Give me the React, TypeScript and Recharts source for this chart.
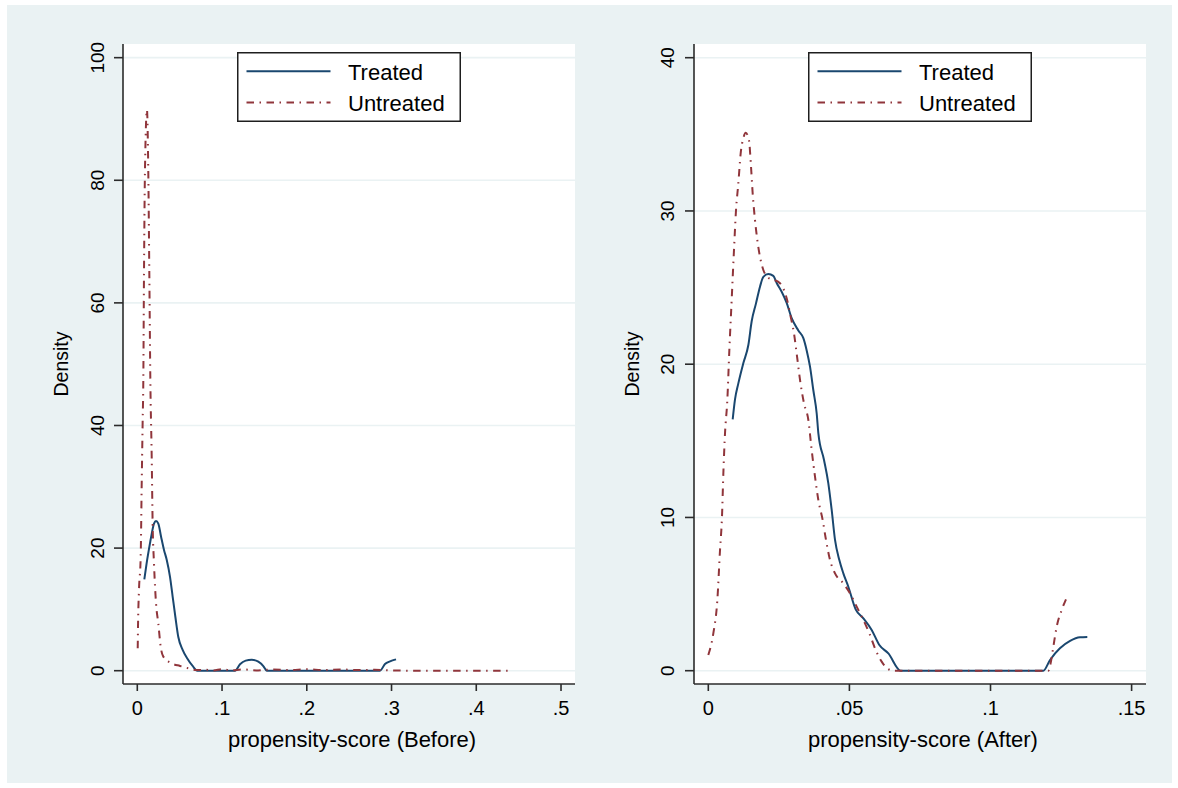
import { LineChart, Line, XAxis, YAxis, CartesianGrid, Legend } from "recharts";

const NAVY = "#1a476f";
const MAROON = "#90353b";
const BG = "#eaf2f3";
const AXIS = "#2b2b2b";
const FONT = "'Liberation Sans', Arial, Helvetica, sans-serif";

// kernel density estimates: [score, density]
const treatedBefore: [number, number][] = [
  [0.0083, 14.9], [0.011, 17.5], [0.015, 20.8], [0.0171, 22.4], [0.0197, 24.0], [0.0221, 24.4],
  [0.0248, 24.0], [0.028, 21.9], [0.0315, 19.7], [0.0347, 18.1], [0.0386, 15.3], [0.0417, 12.1],
  [0.0449, 8.8], [0.0484, 5.5], [0.0535, 3.4], [0.059, 2.0], [0.0653, 0.77], [0.0708, 0],
  [0.1153, 0], [0.1212, 1.04], [0.1279, 1.64], [0.135, 1.8], [0.1428, 1.47], [0.1487, 0.76],
  [0.1527, 0], [0.2864, 0], [0.2923, 1.09], [0.2982, 1.52], [0.3053, 1.85],
];

const untreatedBefore: [number, number][] = [
  [0.0005, 3.65], [0.0009, 7.7], [0.002, 13.2], [0.004, 18.6], [0.0051, 29.5], [0.0063, 40.4],
  [0.0071, 47.4], [0.0079, 64.8], [0.009, 81.1], [0.0114, 91.5], [0.013, 81.1], [0.0142, 64.8],
  [0.0154, 47.4], [0.017, 34.9], [0.0181, 24.0], [0.0197, 17.5], [0.0221, 11.0], [0.0248, 7.7],
  [0.0276, 3.9], [0.0307, 2.3], [0.0406, 1.2], [0.0504, 0.77], [0.0602, 0.4], [0.07, 0.1],
  [0.08, 0.15], [0.09, 0.05], [0.1, 0.25], [0.11, 0.05], [0.125, 0.2], [0.14, 0.05],
  [0.16, 0.2], [0.18, 0.1], [0.2, 0.25], [0.22, 0.1], [0.24, 0.2], [0.26, 0.1],
  [0.28, 0.15], [0.3, 0.05], [0.33, 0], [0.44, 0],
];

const treatedAfter: [number, number][] = [
  [0.00864, 16.4], [0.00946, 17.7], [0.01064, 18.75], [0.0124, 20.06], [0.01419, 21.25],
  [0.01537, 22.8], [0.0169, 23.97], [0.01832, 25.06], [0.0195, 25.7], [0.02127, 25.88],
  [0.02304, 25.76], [0.02423, 25.3], [0.026, 24.73], [0.02777, 24.0], [0.02954, 23.0],
  [0.0319, 22.2], [0.03368, 21.7], [0.03486, 20.9], [0.03604, 19.84], [0.03722, 18.3],
  [0.0384, 16.8], [0.039, 15.49], [0.041, 13.75], [0.04253, 12.23], [0.04372, 10.49],
  [0.0449, 8.53], [0.04643, 7.22], [0.04785, 6.35], [0.04962, 5.48], [0.05222, 4.0],
  [0.05494, 3.42], [0.05789, 2.66], [0.06061, 1.68], [0.0638, 1.13], [0.06817, 0],
  [0.1187, 0], [0.1211, 0.7], [0.1246, 1.46], [0.1282, 1.94], [0.1317, 2.18], [0.1343, 2.2],
];

const untreatedAfter: [number, number][] = [
  [0.0, 1.02], [0.00178, 2.44], [0.0032, 4.61], [0.00415, 7.88], [0.00485, 10.05],
  [0.00533, 12.88], [0.00592, 15.49], [0.00674, 17.66], [0.00745, 20.9], [0.00828, 24.2],
  [0.0091, 27.45], [0.00982, 30.06], [0.01064, 31.8], [0.01147, 33.76], [0.01241, 34.74],
  [0.01324, 35.1], [0.01442, 34.6], [0.01513, 32.9], [0.01572, 31.15], [0.01655, 29.4],
  [0.01737, 28.1], [0.01832, 27.0], [0.0195, 26.15], [0.02092, 25.7], [0.02541, 25.28],
  [0.02777, 24.3], [0.02919, 23.1], [0.03037, 22.0], [0.03131, 20.7], [0.0325, 18.97],
  [0.03391, 17.45], [0.03545, 16.36], [0.03663, 14.4], [0.03781, 12.66], [0.03899, 11.14],
  [0.04053, 9.83], [0.04171, 8.53], [0.04313, 7.22], [0.0449, 6.35], [0.04785, 5.7],
  [0.05021, 5.05], [0.05258, 4.18], [0.05494, 3.31], [0.05706, 2.44], [0.05907, 1.46],
  [0.06143, 0.59], [0.06344, 0.15], [0.06557, 0], [0.1205, 0], [0.1213, 0.48],
  [0.12227, 1.57], [0.12345, 2.87], [0.12522, 3.96], [0.12675, 4.66],
];

const seriesNames = ["Treated", "Untreated"];
const beforeXTicks = [0, 0.1, 0.2, 0.3, 0.4, 0.5];
const beforeYTicks = [0, 20, 40, 60, 80, 100];
const afterXTicks = [0, 0.05, 0.1, 0.15];
const afterYTicks = [0, 10, 20, 30, 40];

const DASHDOT = "7.5 5.5 1.5 5.5";

const toPoints = (arr: [number, number][]) => arr.map(([x, y]) => ({ x, y }));
const fmt = (v: number) => (v === 0 ? "0" : String(v).replace(/^0\./, "."));

function XTick({ x, y, payload }: any) {
  return (
    <text x={x} y={y} dy={14} textAnchor="middle" fontSize={20} fontFamily={FONT} fill="#000">
      {fmt(payload.value)}
    </text>
  );
}

function YTick({ x, y, payload }: any) {
  return (
    <g transform={`translate(${x},${y}) rotate(-90)`}>
      <text x={0} y={0} textAnchor="middle" fontSize={19} fontFamily={FONT} fill="#000">
        {fmt(payload.value)}
      </text>
    </g>
  );
}

function LegendBox({ payload }: any) {
  return (
    <svg width={224} height={70} style={{ display: "block" }}>
      <rect x={0.75} y={0.75} width={222.5} height={68.5} fill="#fff" stroke="#1e1e1e" strokeWidth={1.5} />
      {(payload || []).map((p: any, i: number) => (
        <g key={p.value}>
          <line x1={9.5} x2={93.5} y1={19.3 + i * 31.3} y2={19.3 + i * 31.3} stroke={p.color}
            strokeWidth={2} strokeDasharray={i === 1 ? DASHDOT : undefined} />
          <text x={111} y={27.6 + i * 31.7} fontSize={22} fontFamily={FONT} fill="#000">{p.value}</text>
        </g>
      ))}
    </svg>
  );
}

type PanelProps = {
  left: number;
  axisWidth: number;
  rightMargin: number;
  legendLeft: number;
  treated: [number, number][];
  untreated: [number, number][];
  xDomain: [number, number];
  yDomain: [number, number];
  xTicks: number[];
  yTicks: number[];
  title: string;
  tickMarginY: number;
};

function Panel(p: PanelProps) {
  return (
    <div style={{ position: "absolute", left: p.left, top: 0 }}>
      <LineChart width={589} height={788} margin={{ top: 44, right: p.rightMargin, bottom: 44, left: 0 }}>
        <CartesianGrid horizontal vertical={false} fill="#fff" stroke={BG} strokeWidth={1.6} horizontalValues={p.yTicks} />
        <XAxis dataKey="x" type="number" domain={p.xDomain} ticks={p.xTicks} allowDataOverflow
          height={60} tickSize={7} tickMargin={10} tick={<XTick />}
          axisLine={{ stroke: AXIS, strokeWidth: 1.6 }} tickLine={{ stroke: AXIS, strokeWidth: 1.6 }}
          label={{
            content: ({ viewBox }: any) => (
              <text x={viewBox.x + viewBox.width / 2 + 3} y={viewBox.y + 63} textAnchor="middle"
                fontSize={22} fontFamily={FONT} fill="#000">{p.title}</text>
            ),
          }} />
        <YAxis dataKey="y" type="number" domain={p.yDomain} ticks={p.yTicks} allowDataOverflow
          width={p.axisWidth} tickSize={9} tickMargin={p.tickMarginY} tick={<YTick />}
          axisLine={{ stroke: AXIS, strokeWidth: 1.6 }} tickLine={{ stroke: AXIS, strokeWidth: 1.6 }}
          label={{
            content: ({ viewBox }: any) => {
              const bx = viewBox.x + viewBox.width - 55.5;
              const cy = viewBox.y + viewBox.height / 2;
              return (
                <g transform={`translate(${bx},${cy}) rotate(-90)`}>
                  <text x={0} y={0} textAnchor="middle" fontSize={19.5} fontFamily={FONT} fill="#000">Density</text>
                </g>
              );
            },
          }} />
        <Legend verticalAlign="middle" align="center" content={<LegendBox />}
          wrapperStyle={{ left: p.legendLeft, top: 51.5, width: 224, height: 70 }} />
        <Line data={toPoints(p.treated)} dataKey="y" name={seriesNames[0]} type="monotone"
          stroke={NAVY} strokeWidth={2} dot={false} activeDot={false} isAnimationActive={false} />
        <Line data={toPoints(p.untreated)} dataKey="y" name={seriesNames[1]} type="monotone"
          stroke={MAROON} strokeWidth={2} strokeDasharray={DASHDOT} dot={false} activeDot={false}
          isAnimationActive={false} />
      </LineChart>
    </div>
  );
}

export default function App() {
  return (
    <div style={{ position: "absolute", left: 0, top: 0, width: 1178, height: 788, background: "#fff", overflow: "hidden" }}>
      <div style={{ position: "absolute", left: 7, top: 5, width: 1165, height: 778, background: BG }} />
      <Panel left={0} axisWidth={123} rightMargin={14} legendLeft={237} tickMarginY={10}
        treated={treatedBefore} untreated={untreatedBefore}
        xDomain={[-0.01687, 0.5165]} yDomain={[-2.17, 102.23]}
        xTicks={beforeXTicks} yTicks={beforeYTicks} title="propensity-score (Before)" />
      <Panel left={589} axisWidth={105} rightMargin={32} legendLeft={219} tickMarginY={11}
        treated={treatedAfter} untreated={untreatedAfter}
        xDomain={[-0.00507, 0.1551]} yDomain={[-0.868, 40.894]}
        xTicks={afterXTicks} yTicks={afterYTicks} title="propensity-score (After)" />
    </div>
  );
}
